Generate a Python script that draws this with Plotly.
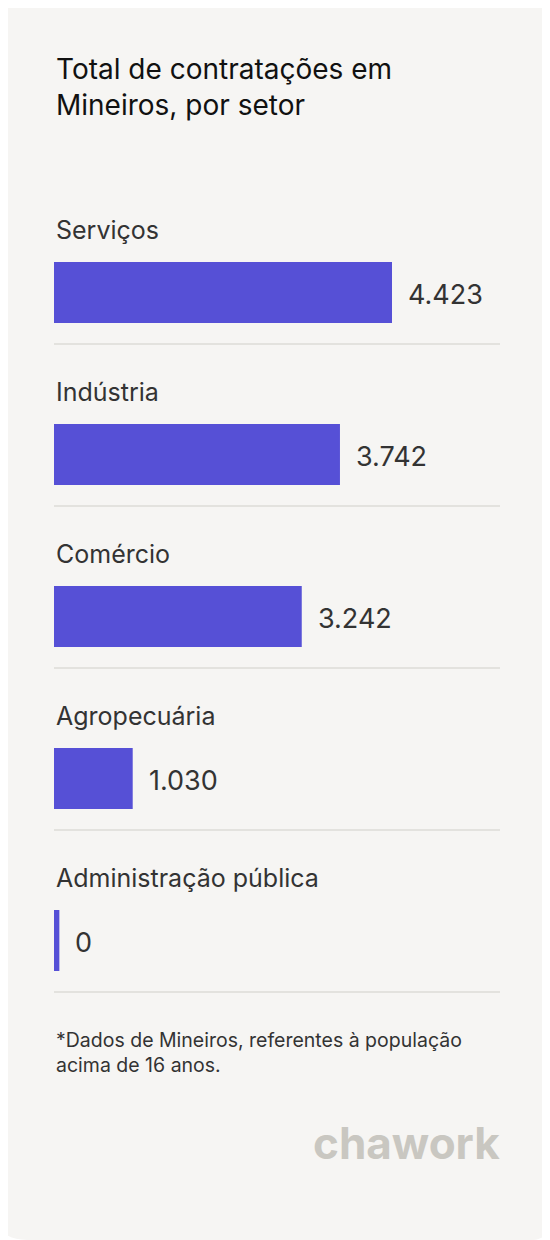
import plotly.graph_objects as go

sectors = ["Serviços", "Indústria", "Comércio", "Agropecuária", "Administração pública"]
values = [4423, 3742, 3242, 1030, 0]
value_labels = ["4.423", "3.742", "3.242", "1.030", "0"]

# the page body has an 8px margin, so the figure is 8px smaller and shifted
OFF = 8
W, H = 550 - OFF, 1240 - OFF
X0, X1 = 54 - OFF, 500 - OFF
PX_PER_UNIT = 338 / 4423
FIRST_CENTER, STEP = 292.5 - OFF, 162
MIN_VISIBLE = 70  # a zero value still shows as a thin sliver

FONT = "Inter, Noto Sans, sans-serif"
BAR = "#5650d6"
TEXT = "#333333"

centers = [FIRST_CENTER + STEP * i for i in range(len(sectors))]
shown = [max(v, MIN_VISIBLE) for v in values]

fig = go.Figure()
fig.add_trace(go.Bar(
    x=shown, y=centers, orientation="h", width=61,
    marker=dict(color=BAR, line=dict(width=0)),
    hoverinfo="skip",
))

annotations = []
for name, c, v, lab in zip(sectors, centers, shown, value_labels):
    annotations.append(dict(
        x=0, y=c - 63, xref="x", yref="y", text=name, showarrow=False,
        xanchor="left", yanchor="middle",
        font=dict(family=FONT, size=25, color=TEXT),
    ))
    annotations.append(dict(
        x=v, y=c + 2, xref="x", yref="y", text=lab, showarrow=False,
        xanchor="left", yanchor="middle", xshift=14,
        font=dict(family=FONT, size=27, color=TEXT),
    ))

shapes = [dict(
    type="path", xref="paper", yref="paper", layer="below",
    path="M 0.036,1.006 L 0.964,1.006 Q 1,1.006 1,0.99 L 1,0.016 Q 1,0 0.964,0 "
         "L 0.036,0 Q -0.015,0 -0.015,0.016 L -0.015,0.99 Q -0.015,1.006 0.036,1.006 Z",
    fillcolor="#f6f5f3", line=dict(width=0),
)]
for c in centers:
    shapes.append(dict(
        type="line", xref="x", yref="y", x0=0, x1=(X1 - X0) / PX_PER_UNIT,
        y0=c + 51.5, y1=c + 51.5, line=dict(color="#dddbd7", width=1.5),
    ))

annotations += [
    dict(x=X0 / W, y=1 - (50 - OFF) / H, xref="paper", yref="paper", showarrow=False,
         xanchor="left", yanchor="top", align="left",
         text="Total de contratações em<br>Mineiros, por setor",
         font=dict(family=FONT, size=28, color="#111111")),
    dict(x=X0 / W, y=1 - (1026 - OFF) / H, xref="paper", yref="paper", showarrow=False,
         xanchor="left", yanchor="top", align="left",
         text="*Dados de Mineiros, referentes à população<br>acima de 16 anos.",
         font=dict(family=FONT, size=19.5, color=TEXT)),
    dict(x=(X1 + 2) / W, y=1 - (1143 - OFF) / H, xref="paper", yref="paper", showarrow=False,
         xanchor="right", yanchor="middle", text="<b>chawork</b>",
         font=dict(family=FONT, size=44, color="#c9c7c1")),
]

fig.update_layout(
    width=W, height=H, margin=dict(l=0, r=0, t=0, b=0),
    paper_bgcolor="white", plot_bgcolor="rgba(0,0,0,0)",
    showlegend=False, shapes=shapes, annotations=annotations,
    xaxis=dict(domain=[X0 / W, X1 / W], range=[0, (X1 - X0) / PX_PER_UNIT],
               visible=False, fixedrange=True),
    yaxis=dict(domain=[0, 1], range=[H, 0], visible=False, fixedrange=True),
)

fig.write_html("out.html")
